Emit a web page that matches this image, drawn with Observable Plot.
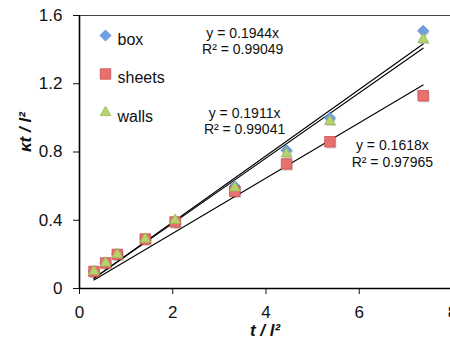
<!DOCTYPE html>
<html>
<head>
<meta charset="utf-8">
<script src="https://cdn.jsdelivr.net/npm/d3@7"></script>
<script src="https://cdn.jsdelivr.net/npm/@observablehq/plot@0.6"></script>
<style>
  html, body { margin: 0; padding: 0; background: #fff; overflow: hidden; }
  #chart { width: 450px; height: 339px; }
</style>
</head>
<body>
<div id="chart"></div>
<script>
const seriesNames = ["box", "sheets", "walls"];
const tValues = [0.31, 0.56, 0.81, 1.41, 2.05, 3.33, 4.44, 5.37, 7.37];
const boxValues = [0.10, 0.15, 0.20, 0.29, 0.39, 0.60, 0.81, 1.00, 1.51];
const sheetsValues = [0.10, 0.15, 0.20, 0.29, 0.39, 0.57, 0.73, 0.86, 1.13];
const wallsValues = [0.10, 0.15, 0.20, 0.29, 0.40, 0.59, 0.79, 0.98, 1.46];
const slopes = [0.1944, 0.1618, 0.1911];
const rSquared = ["0.99049", "0.97965", "0.99041"];
// label anchor positions (data units) for the trendline equations
const eqX = [3.50, 6.71, 3.54];
const eqY = [1.451, 0.792, 0.984];
const xTicks = [0, 2, 4, 6, 8];
const yTicks = [0, 0.4, 0.8, 1.2, 1.6];

const styles = {
  box:    {symbol: "diamond2", r: 5,   fill: "#6f9fe0", stroke: "#5b8bd0"},
  sheets: {symbol: "square",   r: 5.9, fill: "#e8706e", stroke: "#c9504d"},
  walls:  {symbol: "triangle", r: 4.0, fill: "#b4d46c", stroke: "#9ab858"}
};

const valuesBySeries = {box: boxValues, sheets: sheetsValues, walls: wallsValues};
const points = seriesNames.map(s => tValues.map((t, i) => ({series: s, t, v: valuesBySeries[s][i]})));
const tMin = d3.min(tValues), tMax = d3.max(tValues);
const trend = seriesNames.map((s, k) => [tMin, tMax].map(t => ({series: s, t, v: slopes[k] * t})));
const eqs = seriesNames.map((s, k) => ({
  x: eqX[k], y: eqY[k],
  text: `y = ${slopes[k]}x\nR² = ${rSquared[k]}`
}));

const font = "Liberation Sans, Arial, Helvetica, sans-serif";

const marks = [
  Plot.frame({stroke: "#444", strokeWidth: 1}),
  // trendlines
  ...trend.map(d => Plot.line(d, {x: "t", y: "v", stroke: "#000", strokeWidth: 1.1})),
  // marker shadows
  ...points.map((d, k) => {
    const st = styles[seriesNames[k]];
    return Plot.dot(d, {x: "t", y: "v", symbol: () => st.symbol, r: st.r, fill: "#000", fillOpacity: 0.18, stroke: "none", dx: 1.2, dy: 1.5});
  }),
  ...points.map((d, k) => {
    const st = styles[seriesNames[k]];
    return Plot.dot(d, {x: "t", y: "v", symbol: () => st.symbol, r: st.r, fill: st.fill, stroke: st.stroke, strokeWidth: 0.8});
  }),
  // equations
  Plot.text(eqs, {x: "x", y: "y", text: "text", fontSize: 14, lineHeight: 1.15, fill: "#111", lineAnchor: "middle"}),
  // legend inside plot
  ...seriesNames.map((s, k) => {
    const st = styles[s];
    return Plot.dot([s], {frameAnchor: "top-left", dx: 26, dy: 20 + k * 38.5, symbol: () => st.symbol, r: st.r, fill: st.fill, stroke: st.stroke, strokeWidth: 0.8});
  }),
  ...seriesNames.map((s, k) => Plot.text([s], {frameAnchor: "top-left", dx: 38, dy: 24 + k * 38.5, text: d => d, textAnchor: "start", lineAnchor: "middle", fontSize: 16, fill: "#111"})),
  // axes
  Plot.axisX({ticks: xTicks, tickSize: 6, tickPadding: 11, fontSize: 17, label: null, tickFormat: d3.format("d")}),
  Plot.axisY({ticks: yTicks, tickSize: 6, tickPadding: 11, fontSize: 17, label: null, tickFormat: d => d === 0 ? "0" : d3.format(".1f")(d)}),
  Plot.ruleY([0], {stroke: "#000", strokeWidth: 1.6}),
  Plot.ruleX([0], {stroke: "#000", strokeWidth: 1.6}),
  // axis titles
  Plot.text(["t / l²"], {frameAnchor: "bottom", dy: 42, text: d => d, fontSize: 17, fontWeight: "bold", fontStyle: "italic", fill: "#111", lineAnchor: "middle"}),
  Plot.text(["κt / l²"], {frameAnchor: "left", dx: -54, rotate: -90, text: d => d, fontSize: 17, fontWeight: "bold", fontStyle: "italic", fill: "#111", lineAnchor: "middle"})
];

const chart = Plot.plot({
  width: 450,
  height: 339,
  marginLeft: 79,
  marginTop: 15,
  marginBottom: 51,
  marginRight: 0,
  style: {fontFamily: font, background: "#fff", color: "#111", overflow: "hidden"},
  x: {domain: [0, 8], range: [79, 452]},
  y: {domain: [0, 1.6], range: [288, 15]},
  marks
});
document.getElementById("chart").appendChild(chart);
</script>
</body>
</html>
